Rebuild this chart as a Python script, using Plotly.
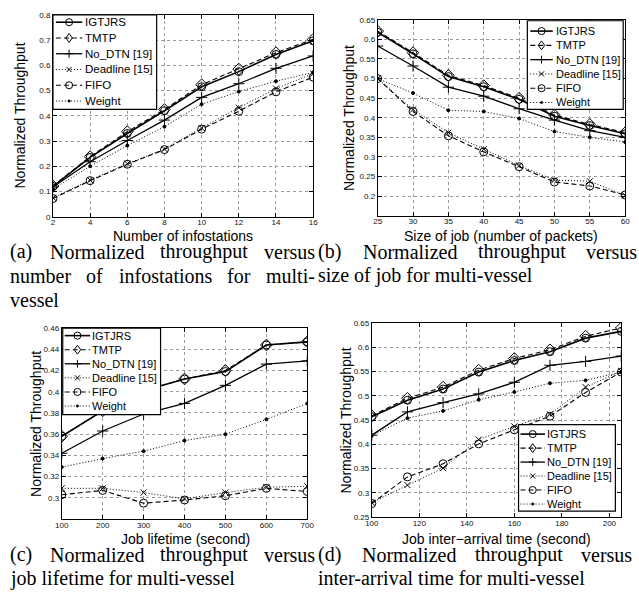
import plotly.graph_objects as go

W, H = 639, 596

# ---------------- data ----------------
series_names = ["IGTJRS", "TMTP", "No_DTN [19]", "Deadline [15]", "FIFO", "Weight"]

# (a) number of infostations
infostations = [2, 4, 6, 8, 10, 12, 14, 16]
a_igtjrs = [0.120, 0.235, 0.330, 0.420, 0.515, 0.575, 0.643, 0.697]
a_tmtp = [0.122, 0.238, 0.337, 0.425, 0.523, 0.585, 0.650, 0.703]
a_nodtn = [0.118, 0.218, 0.302, 0.383, 0.473, 0.527, 0.588, 0.637]
a_deadline = [0.075, 0.145, 0.210, 0.268, 0.352, 0.432, 0.508, 0.567]
a_fifo = [0.072, 0.143, 0.208, 0.266, 0.347, 0.418, 0.495, 0.553]
a_weight = [0.110, 0.200, 0.282, 0.357, 0.446, 0.496, 0.537, 0.572]

# (b) size of job
job_size = [25, 30, 35, 40, 45, 50, 55, 60]
b_igtjrs = [0.618, 0.563, 0.505, 0.479, 0.447, 0.404, 0.380, 0.359]
b_tmtp = [0.621, 0.566, 0.508, 0.482, 0.450, 0.407, 0.383, 0.362]
b_nodtn = [0.583, 0.532, 0.478, 0.455, 0.423, 0.394, 0.367, 0.350]
b_deadline = [0.500, 0.421, 0.362, 0.320, 0.278, 0.241, 0.238, 0.202]
b_fifo = [0.500, 0.416, 0.354, 0.313, 0.275, 0.236, 0.226, 0.203]
b_weight = [0.500, 0.463, 0.419, 0.416, 0.398, 0.365, 0.350, 0.338]

# (c) job lifetime
lifetime = [100, 200, 300, 400, 500, 600, 700]
c_igtjrs = [0.358, 0.382, 0.401, 0.412, 0.419, 0.444, 0.447]
c_tmtp = [0.358, 0.382, 0.401, 0.412, 0.420, 0.444, 0.447]
c_nodtn = [0.342, 0.363, 0.379, 0.389, 0.406, 0.426, 0.429]
c_deadline = [0.309, 0.309, 0.305, 0.299, 0.305, 0.310, 0.311]
c_fifo = [0.303, 0.307, 0.295, 0.298, 0.302, 0.309, 0.306]
c_weight = [0.329, 0.337, 0.344, 0.354, 0.360, 0.374, 0.389]

# (d) job inter-arrival time
inter_arrival = [100, 115, 130, 145, 160, 175, 190, 205]
d_igtjrs = [0.457, 0.491, 0.514, 0.549, 0.573, 0.591, 0.619, 0.633]
d_tmtp = [0.459, 0.495, 0.518, 0.553, 0.577, 0.595, 0.623, 0.640]
d_nodtn = [0.419, 0.467, 0.486, 0.504, 0.528, 0.563, 0.571, 0.582]
d_deadline = [0.280, 0.316, 0.351, 0.410, 0.437, 0.462, 0.518, 0.551]
d_fifo = [0.278, 0.333, 0.360, 0.401, 0.430, 0.458, 0.507, 0.549]
d_weight = [0.418, 0.454, 0.469, 0.492, 0.508, 0.526, 0.532, 0.549]

# tick labels
a_xticks = [2, 4, 6, 8, 10, 12, 14, 16]
a_yticks = [0, 0.1, 0.2, 0.3, 0.4, 0.5, 0.6, 0.7, 0.8]
a_yticklabels = ["0", "0.1", "0.2", "0.3", "0.4", "0.5", "0.6", "0.7", "0.8"]
b_xticks = [25, 30, 35, 40, 45, 50, 55, 60]
b_yticks = [0.2, 0.25, 0.3, 0.35, 0.4, 0.45, 0.5, 0.55, 0.6, 0.65]
b_yticklabels = ["0.2", "0.25", "0.3", "0.35", "0.4", "0.45", "0.5", "0.55", "0.6", "0.65"]
c_xticks = [100, 200, 300, 400, 500, 600, 700]
c_yticks = [0.3, 0.32, 0.34, 0.36, 0.38, 0.4, 0.42, 0.44, 0.46]
c_yticklabels = ["0.3", "0.32", "0.34", "0.36", "0.38", "0.4", "0.42", "0.44", "0.46"]
d_xticks = [100, 120, 140, 160, 180, 200]
d_yticks = [0.25, 0.3, 0.35, 0.4, 0.45, 0.5, 0.55, 0.6, 0.65]
d_yticklabels = ["0.25", "0.3", "0.35", "0.4", "0.45", "0.5", "0.55", "0.6", "0.65"]

x_titles = ["Number of infostations", "Size of job (number of packets)",
            "Job lifetime (second)", "Job inter\u2212arrival time (second)"]
y_title = "Normalized Throughput"

captions = {
    "a": [["(a)", "Normalized", "throughput", "versus"],
          ["number", "of", "infostations", "for", "multi-"],
          ["vessel"]],
    "b": [["(b)", "Normalized", "throughput", "versus"],
          ["size of job for multi-vessel"]],
    "c": [["(c)", "Normalized", "throughput", "versus"],
          ["job lifetime for multi-vessel"]],
    "d": [["(d)", "Normalized", "throughput", "versus"],
          ["inter-arrival time for multi-vessel"]],
}

# ---------------- styles ----------------
SANS = "Liberation Sans, Arial, sans-serif"
SERIF = "Liberation Serif, Times New Roman, serif"
styles = {
    "IGTJRS": dict(dash="solid", width=1.6, symbol="circle-open", size=8, key="circle"),
    "TMTP": dict(dash="5px,3px", width=1.1, symbol="diamond-open", size=9, key="diamond"),
    "No_DTN [19]": dict(dash="solid", width=1.3, symbol="cross-thin-open", size=8, key="plus"),
    "Deadline [15]": dict(dash="1px,2px", width=1.0, symbol="x-thin-open", size=6, key="x"),
    "FIFO": dict(dash="5px,3px", width=1.1, symbol="circle-open", size=8, key="circle"),
    "Weight": dict(dash="1px,2px", width=1.0, symbol="circle", size=3, key="dot"),
}

# pixel boxes of the axes: (left, right, top, bottom)
boxes = {"a": (47, 313, 11, 216), "b": (379, 632, 16, 215),
         "c": (56, 307, 329, 523), "d": (373, 628, 324, 521)}

panels = [
    ("a", "", infostations, [a_igtjrs, a_tmtp, a_nodtn, a_deadline, a_fifo, a_weight],
     [2, 16], [0, 0.8], a_xticks, [str(v) for v in a_xticks], a_yticks, a_yticklabels),
    ("b", "2", job_size, [b_igtjrs, b_tmtp, b_nodtn, b_deadline, b_fifo, b_weight],
     [25, 60], [0.15, 0.65], b_xticks, [str(v) for v in b_xticks], b_yticks, b_yticklabels),
    ("c", "3", lifetime, [c_igtjrs, c_tmtp, c_nodtn, c_deadline, c_fifo, c_weight],
     [100, 700], [0.28, 0.46], c_xticks, [str(v) for v in c_xticks], c_yticks, c_yticklabels),
    ("d", "4", inter_arrival, [d_igtjrs, d_tmtp, d_nodtn, d_deadline, d_fifo, d_weight],
     [100, 205], [0.25, 0.65], d_xticks, [str(v) for v in d_xticks], d_yticks, d_yticklabels),
]

# legend boxes (MATLAB-style, drawn as shapes + text): box, first row y, row step,
# sample line x-extent, text x, font size
legend_geom = {
    "a": dict(box=(47, 11, 153, 107), row0=18.5, step=16.0, line=(50, 77), tx=80, fs=11.5),
    "b": dict(box=(532, 17, 630, 107), row0=27.5, step=14.5, line=(535, 558), tx=561, fs=11),
    "c": dict(box=(57, 329, 157, 417), row0=336.7, step=14.3, line=(59, 85), tx=87, fs=11),
    "d": dict(box=(523, 427, 622, 515), row0=436.7, step=14.2, line=(525, 550), tx=552, fs=11),
}

fig = go.Figure()
layout = dict(width=W, height=H, margin=dict(l=0, r=0, t=0, b=0),
              paper_bgcolor="white", plot_bgcolor="white", showlegend=False,
              font=dict(family=SANS, color="black"), annotations=[], shapes=[])


def px(x):
    return x / W


def py(y):
    return 1 - y / H


def note(text, x, y, size, family=SANS, xanchor="center", angle=0):
    layout["annotations"].append(dict(text=text, x=px(x), y=py(y), xref="paper", yref="paper",
                                      showarrow=False, xanchor=xanchor, yanchor="middle",
                                      textangle=angle, borderpad=0, borderwidth=0,
                                      font=dict(size=size, family=family, color="black")))


def pshape(**kw):
    kw.setdefault("xref", "paper")
    kw.setdefault("yref", "paper")
    layout["shapes"].append(kw)


def path(points, close=False):
    s = " ".join(("M" if i == 0 else "L") + f"{px(x):.5f},{py(y):.5f}"
                 for i, (x, y) in enumerate(points))
    return s + (" Z" if close else "")


def marker_key(kind, cx, cy):
    blk = dict(color="black", width=1)
    if kind == "circle":
        r = 3.6
        pshape(type="circle", x0=px(cx - r), x1=px(cx + r), y0=py(cy + r), y1=py(cy - r),
               line=blk, fillcolor="rgba(0,0,0,0)")
    elif kind == "diamond":
        r = 4.5
        pshape(type="path", path=path([(cx, cy - r), (cx + 3.3, cy), (cx, cy + r), (cx - 3.3, cy)], True),
               line=blk, fillcolor="rgba(0,0,0,0)")
    elif kind == "plus":
        r = 4
        pshape(type="line", x0=px(cx - r), x1=px(cx + r), y0=py(cy), y1=py(cy), line=blk)
        pshape(type="line", x0=px(cx), x1=px(cx), y0=py(cy - r), y1=py(cy + r), line=blk)
    elif kind == "x":
        r = 2.6
        pshape(type="line", x0=px(cx - r), x1=px(cx + r), y0=py(cy - r), y1=py(cy + r), line=blk)
        pshape(type="line", x0=px(cx - r), x1=px(cx + r), y0=py(cy + r), y1=py(cy - r), line=blk)
    elif kind == "dot":
        r = 1.2
        pshape(type="circle", x0=px(cx - r), x1=px(cx + r), y0=py(cy + r), y1=py(cy - r),
               line=dict(color="black", width=0.5), fillcolor="black")


for key, suf, xs, ys_list, xr, yr, xt, xtl, yt, ytl in panels:
    L, R, T, B = boxes[key]
    for name, ys in zip(series_names, ys_list):
        st = styles[name]
        fig.add_trace(go.Scatter(
            x=xs, y=ys, name=name, mode="lines+markers", showlegend=False,
            xaxis="x" + suf, yaxis="y" + suf,
            line=dict(color="black", width=st["width"], dash=st["dash"]),
            marker=dict(symbol=st["symbol"], size=st["size"], color="black",
                        line=dict(color="black", width=1)),
        ))
    axcommon = dict(showline=True, linecolor="black", linewidth=1, mirror="ticks",
                    ticks="inside", ticklen=4, tickcolor="black", tickwidth=1,
                    showgrid=True, gridcolor="#9a9a9a", griddash="dot", gridwidth=1,
                    zeroline=False, tickfont=dict(size=8, family=SANS, color="#111"),
                    tickmode="array")
    layout["xaxis" + suf] = dict(axcommon, domain=[px(L), px(R)], range=xr,
                                 tickvals=xt, ticktext=xtl, anchor="y" + suf,
                                 ticklabelstandoff=-2)
    layout["yaxis" + suf] = dict(axcommon, domain=[py(B), py(T)], range=yr,
                                 tickvals=yt, ticktext=ytl, anchor="x" + suf)

    # legend
    g = legend_geom[key]
    bx0, by0, bx1, by1 = g["box"]
    pshape(type="rect", x0=px(bx0), x1=px(bx1), y0=py(by1), y1=py(by0),
           line=dict(color="black", width=1.2), fillcolor="white", layer="above")
    lx0, lx1 = g["line"]
    for i, name in enumerate(series_names):
        st = styles[name]
        cy = g["row0"] + i * g["step"]
        pshape(type="line", x0=px(lx0), x1=px(lx1), y0=py(cy), y1=py(cy),
               line=dict(color="black", width=st["width"], dash=st["dash"]))
        marker_key(st["key"], (lx0 + lx1) / 2, cy)
        note(name, g["tx"], cy, g["fs"], xanchor="left")

xtitle_pos = {"a": (180, 236), "b": (505, 236), "c": (182, 543), "d": (500, 543)}
ytitle_pos = {"a": (13, 113.5), "b": (349, 115.5), "c": (29, 426), "d": (347, 422.5)}
for key, txt in zip(["a", "b", "c", "d"], x_titles):
    note(txt, *xtitle_pos[key], 14)
    note(y_title, *ytitle_pos[key], 14, angle=-90)

# captions (justified like the paper's subfigure captions)
TIMES = {" ": 250, "(": 333, ")": 333, "-": 333, "a": 444, "b": 500, "c": 444, "d": 500,
         "e": 444, "f": 333, "g": 500, "h": 500, "i": 278, "j": 278, "k": 500, "l": 278,
         "m": 778, "n": 500, "o": 500, "p": 500, "q": 500, "r": 333, "s": 389, "t": 278,
         "u": 500, "v": 500, "w": 722, "x": 500, "y": 500, "z": 444, "N": 722}
CAP_SIZE = 20


def tw(s):
    return sum(TIMES.get(c, 500) for c in s) / 1000 * CAP_SIZE


cap_cols = {"a": (3, 314), "b": (318, 643), "c": (3, 314), "d": (318, 638)}
cap_rows = {"a": [251.5, 276, 300.5], "b": [251.5, 276], "c": [559, 583], "d": [559, 583]}
for key, lines in captions.items():
    x0, x1 = cap_cols[key]
    for i, words in enumerate(lines):
        y = cap_rows[key][i]
        if len(words) > 1:
            widths = [tw(w) for w in words]
            gap = (x1 - x0 - sum(widths)) / (len(words) - 1)
            x = x0
            for w, wd in zip(words, widths):
                note(w, x, y, CAP_SIZE, family=SERIF, xanchor="left")
                x += wd + gap
        else:
            note(words[0], x0, y, CAP_SIZE, family=SERIF, xanchor="left")

fig.update_layout(**layout)
fig.write_html("out.html", config={"displayModeBar": False},
               post_script="document.body.style.margin='0px';document.body.style.overflow='hidden';")
